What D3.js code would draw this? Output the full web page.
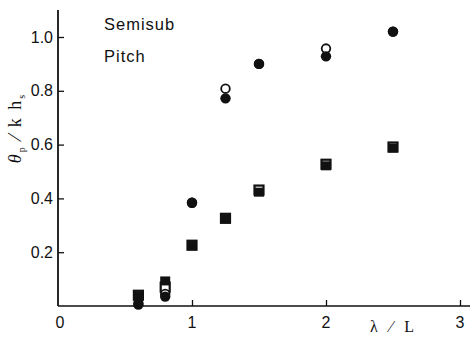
<!DOCTYPE html>
<html>
<head>
<meta charset="utf-8">
<script src="https://cdn.jsdelivr.net/npm/d3@7"></script>
<style>
  html, body { margin: 0; padding: 0; background: #fff; }
  svg { display: block; }
</style>
</head>
<body>
<svg id="chart" width="476" height="340"></svg>
<script>
// Wave-length ratio λ/L for each measurement
const waveRatio = [0.6, 0.8, 1.0, 1.25, 1.5, 2.0, 2.5];

// Pitch response θp / k hs, four marker sets
const filledCircle = [0.005, 0.035, 0.384, 0.772, 0.900, 0.928, 1.020];
const openCircle   = [0.010, 0.045, 0.384, 0.808, 0.900, 0.957, 1.020];
const filledSquare = [0.040, 0.095, 0.226, 0.326, 0.425, 0.523, 0.589];
const openSquare   = [0.040, 0.070, 0.226, 0.326, 0.431, 0.527, 0.591];

const xTicks = [0, 1, 2, 3];
const yTicks = [0.2, 0.4, 0.6, 0.8, 1.0];

const svg = d3.select("#chart");
const x = d3.scaleLinear().domain([0, 3]).range([58, 460]);
const y = d3.scaleLinear().domain([0, 1.0]).range([306, 37]);

const ink = "#111";
const sans = "'Liberation Sans', Arial, sans-serif";
const serif = "'Liberation Serif', 'DejaVu Serif', serif";

// Axes
const xAxis = d3.axisBottom(x).tickValues(xTicks.slice(1)).tickSize(-6).tickFormat("");
const yAxis = d3.axisLeft(y).tickValues(yTicks).tickSize(-6).tickFormat("");

const gx = svg.append("g").attr("transform", `translate(0,${y(0)})`).call(xAxis);
const gy = svg.append("g").attr("transform", `translate(${x(0)},0)`).call(yAxis);
[gx, gy].forEach(g => {
  g.select(".domain").remove();
  g.selectAll(".tick line").attr("stroke", ink).attr("stroke-width", 1.3);
});

// axis lines
svg.append("line").attr("x1", x(0)).attr("x2", 470).attr("y1", y(0)).attr("y2", y(0))
  .attr("stroke", ink).attr("stroke-width", 1.6);
svg.append("line").attr("x1", x(0)).attr("x2", x(0)).attr("y1", y(0)).attr("y2", y(1.1))
  .attr("stroke", ink).attr("stroke-width", 1.8);

// Tick labels
svg.append("g").selectAll("text").data(xTicks).join("text")
  .attr("x", d => x(d) + (d === 0 ? 2 : 0)).attr("y", y(0) + 22)
  .attr("text-anchor", "middle").attr("font-family", sans).attr("font-size", 16)
  .attr("fill", ink).text(d => d);

svg.append("g").selectAll("text").data(yTicks).join("text")
  .attr("x", x(0) - 5).attr("y", d => y(d) + 5.5)
  .attr("text-anchor", "end").attr("font-family", sans).attr("font-size", 16)
  .attr("fill", ink).text(d => d.toFixed(1));

// Legend text
svg.append("text").attr("x", 104).attr("y", 30).attr("font-family", sans)
  .attr("font-size", 16.5).attr("letter-spacing", 1).attr("fill", ink).text("Semisub");
svg.append("text").attr("x", 104).attr("y", 62).attr("font-family", sans)
  .attr("font-size", 16.5).attr("letter-spacing", 1).attr("fill", ink).text("Pitch");

// Axis titles
const yt = svg.append("text").attr("transform", "translate(21,128) rotate(-90)")
  .attr("text-anchor", "middle").attr("font-family", serif).attr("font-size", 18)
  .attr("letter-spacing", 2).attr("fill", ink);
yt.append("tspan").attr("font-style", "italic").text("θ");
yt.append("tspan").attr("font-size", 10).attr("dy", 4).text("p");
yt.append("tspan").attr("dy", -4).text(" ⁄ k h");
yt.append("tspan").attr("font-size", 10).attr("dy", 4).text("s");

svg.append("text").attr("x", 394).attr("y", 332).attr("text-anchor", "middle")
  .attr("font-family", serif).attr("font-size", 16).attr("fill", ink)
  .attr("letter-spacing", 4).text("λ ⁄ L");

// Markers
const pts = vals => waveRatio.map((w, i) => ({ w, v: vals[i] }));
const side = 9;

svg.append("g").selectAll("rect").data(pts(openSquare)).join("rect")
  .attr("x", d => x(d.w) - side / 2).attr("y", d => y(d.v) - side / 2)
  .attr("width", side).attr("height", side)
  .attr("fill", "#fff").attr("stroke", ink).attr("stroke-width", 2.2);

svg.append("g").selectAll("rect").data(pts(filledSquare)).join("rect")
  .attr("x", d => x(d.w) - side / 2 - 0.5).attr("y", d => y(d.v) - side / 2 + 0.5)
  .attr("width", side + 1).attr("height", side)
  .attr("fill", ink);

svg.append("g").selectAll("circle").data(pts(openCircle)).join("circle")
  .attr("cx", d => x(d.w)).attr("cy", d => y(d.v)).attr("r", 4.3)
  .attr("fill", "#fff").attr("stroke", ink).attr("stroke-width", 1.8);

svg.append("g").selectAll("circle").data(pts(filledCircle)).join("circle")
  .attr("cx", d => x(d.w)).attr("cy", d => y(d.v)).attr("r", 5.2)
  .attr("fill", ink);
</script>
</body>
</html>
